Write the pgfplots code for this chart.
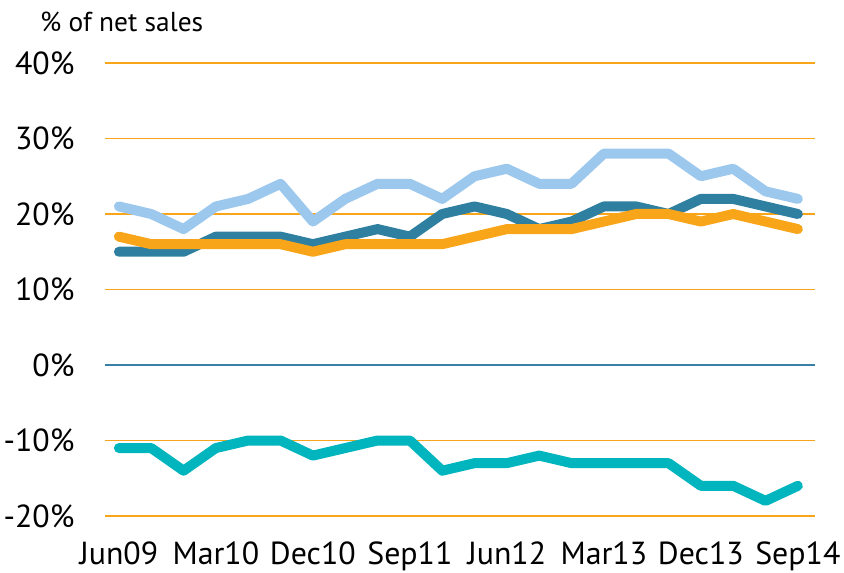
\documentclass[border=0pt]{standalone}
\usepackage{pgfplots}
\pgfplotsset{compat=1.18}
\usepackage{fontspec}
\setmainfont{PT Sans}
\definecolor{lblue}{HTML}{9DC8EE}
\definecolor{dteal}{HTML}{2E7FA0}
\definecolor{orng}{HTML}{F9A51A}
\definecolor{cyn}{HTML}{00B5BD}
\definecolor{zline}{HTML}{3A7FA8}
\begin{document}
\begin{tikzpicture}
\begin{axis}[
  at={(0,0)}, anchor=south west,
  scale only axis, width=710bp, height=453bp,
  xmin=-0.43, xmax=21.53, ymin=-20, ymax=40,
  axis line style={draw=none},
  major tick length=0pt,
  xtick={0,3,...,21},
  xticklabels={Jun09,Mar10,Dec10,Sep11,Jun12,Mar13,Dec13,Sep14},
  ytick={-20,-10,...,40},
  yticklabel={\pgfmathprintnumber{\tick}\%},
  /pgf/number format/assume math mode=true,
  ymajorgrids, major grid style={draw=orng, line width=1.3bp},
  tick label style={font=\fontsize{32}{34}\selectfont, text=black},
  yticklabel style={xshift=-27bp},
  xticklabel style={yshift=-22bp},
  clip=false,
  every axis plot/.append style={line width=10bp, line cap=round, line join=round, mark=none},
]
\addplot[draw=zline, line width=1.3bp, line cap=butt] coordinates {(-0.43,0) (21.53,0)};
\addplot[lblue] coordinates {(0,21)(1,20)(2,18)(3,21)(4,22)(5,24)(6,19)(7,22)(8,24)(9,24)(10,22)(11,25)(12,26)(13,24)(14,24)(15,28)(16,28)(17,28)(18,25)(19,26)(20,23)(21,22)};
\addplot[dteal] coordinates {(0,15)(1,15)(2,15)(3,17)(4,17)(5,17)(6,16)(7,17)(8,18)(9,17)(10,20)(11,21)(12,20)(13,18)(14,19)(15,21)(16,21)(17,20)(18,22)(19,22)(20,21)(21,20)};
\addplot[orng] coordinates {(0,17)(1,16)(2,16)(3,16)(4,16)(5,16)(6,15)(7,16)(8,16)(9,16)(10,16)(11,17)(12,18)(13,18)(14,18)(15,19)(16,20)(17,20)(18,19)(19,20)(20,19)(21,18)};
\addplot[cyn] coordinates {(0,-11)(1,-11)(2,-14)(3,-11)(4,-10)(5,-10)(6,-12)(7,-11)(8,-10)(9,-10)(10,-14)(11,-13)(12,-13)(13,-12)(14,-13)(15,-13)(16,-13)(17,-13)(18,-16)(19,-16)(20,-18)(21,-16)};
\node[anchor=base west, font=\fontsize{27.5}{29}\selectfont, inner sep=0pt] at (rel axis cs:-0.0915,1.0706) {\% of net sales};
\end{axis}
\pgfresetboundingbox
\path[use as bounding box] (-105bp,-57bp) rectangle (739bp,516bp);
\end{tikzpicture}
\end{document}
